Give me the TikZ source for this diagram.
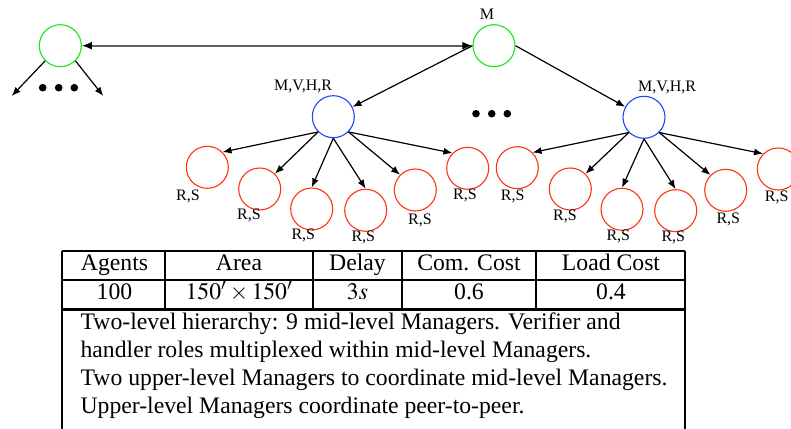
\documentclass[tikz,border=0pt]{standalone}
\usepackage{amsmath}
\usepackage{mathptmx}
\usepackage{fontspec}
\setmainfont{Liberation Serif}
\usetikzlibrary{arrows.meta}
\definecolor{nicegreen}{RGB}{20, 230, 20}
\definecolor{niceblue}{RGB}{30, 70, 255}
\definecolor{nicered}{RGB}{255, 50, 20}
\definecolor{linegray}{RGB}{95, 95, 95}

\begin{document}
\begin{tikzpicture}[x = 1pt, y = -1pt, line width = 1.2pt,
	mgr/.style = {circle, draw, minimum size = 42pt, inner sep = 0pt, line width = 1.1pt},
	lbl/.style = {font = \fontsize{16}{19}\selectfont, inner sep = 0pt},
	txt/.style = {font = \fontsize{23.7}{28}\selectfont, inner sep = 0pt},
	tabline/.style = {line width = 1.4pt},
	>={Latex[length = 9pt, width = 7pt]}]
			\useasboundingbox (0,0) rectangle (791,428);
			% upper level
			\node (u1) at (60.3,45.7) [mgr, draw = nicegreen] {};
			\node (u2) at (494,45.7) [mgr, draw = nicegreen] {};
			\node (u2l) at (487,14) [lbl] {M};
			\coordinate (e1) at (11.7,96);
			\coordinate (e2) at (103.3,96);
			% mid level
			\node (m1) at (333.3,116.7) [mgr, draw = niceblue] {};
			\node (m2) at (644,117.3) [mgr, draw = niceblue] {};
			\node (m1l) at (303,86) [lbl] {M,V,H,R};
			\node (m2l) at (667,87.3) [lbl] {M,V,H,R};
			% low level
			\node (a1) at (207.3,167.3) [mgr, draw = nicered] {};
			\node (a2) at (259.7,189) [mgr, draw = nicered] {};
			\node (a3) at (311.7,209) [mgr, draw = nicered] {};
			\node (a4) at (365.7,210.3) [mgr, draw = nicered] {};
			\node (a5) at (415.3,190) [mgr, draw = nicered] {};
			\node (a6) at (467.7,168.3) [mgr, draw = nicered] {};
			\node (b1) at (517.3,167.7) [mgr, draw = nicered] {};
			\node (b2) at (570.3,189) [mgr, draw = nicered] {};
			\node (b3) at (622,209.3) [mgr, draw = nicered] {};
			\node (b4) at (675.7,210.7) [mgr, draw = nicered] {};
			\node (b5) at (725.7,190.3) [mgr, draw = nicered] {};
			\node (b6) at (778.3,169) [mgr, draw = nicered] {};
			\node (a1l) at (188,196) [lbl] {R,S};
			\node (a2l) at (249,215) [lbl] {R,S};
			\node (a3l) at (303.3,235) [lbl] {R,S};
			\node (a4l) at (363.3,237.3) [lbl] {R,S};
			\node (a5l) at (420,220) [lbl] {R,S};
			\node (a6l) at (465,195.3) [lbl] {R,S};
			\node (b1l) at (512.7,196.7) [lbl] {R,S};
			\node (b2l) at (565,216) [lbl] {R,S};
			\node (b3l) at (618.3,236) [lbl] {R,S};
			\node (b4l) at (673.3,237.3) [lbl] {R,S};
			\node (b5l) at (728.3,219.3) [lbl] {R,S};
			\node (b6l) at (776.7,197.7) [lbl] {R,S};
			% connectors
			\draw (u1) edge[<->, linegray, line width = 1.8pt, >={Latex[length = 10pt, width = 8pt, color = black]}] (u2);
			\draw (u1.south west) edge[->] (e1);
			\draw (u1.south east) edge[->] (e2);
			\draw (u2.west) edge[->] (m1);
			\draw (u2.east) edge[->] (m2);
			\draw (m1.south west) edge[->] (a1.north east);
			\draw (m1.south west) edge[->] (a2.north east);
			\draw (m1.south) edge[->] (a3.north);
			\draw (m1.south) edge[->] (a4.north);
			\draw (m1.south east) edge[->] (a5.north west);
			\draw (m1.south east) edge[->] (a6.north west);
			\draw (m2.south west) edge[->] (b1.north east);
			\draw (m2.south west) edge[->] (b2.north east);
			\draw (m2.south) edge[->] (b3.north);
			\draw (m2.south) edge[->] (b4.north);
			\draw (m2.south east) edge[->] (b5.north west);
			\draw (m2.south east) edge[->] (b6.north west);
			% ellipses
			\foreach \x in {42.7, 58.7, 74.3} \fill (\x,87.7) circle (3.8pt);
			\foreach \x in {476, 491.7, 507.3} \fill (\x,113.7) circle (3.8pt);
			% table
			\draw[tabline] (62,251) -- (685,251);
			\draw[tabline] (62,280) -- (685,280);
			\draw[tabline, line width = 2.2pt] (62,309.5) -- (685,309.5);
			\draw[tabline] (62,251) -- (62,430);
			\draw[tabline] (685,251) -- (685,430);
			\draw[tabline] (165,251) -- (165,309);
			\draw[tabline] (313,251) -- (313,309);
			\draw[tabline] (402,251) -- (402,309);
			\draw[tabline, line width = 2.2pt] (536,251) -- (536,309);
			\node (h1) at (114.5,270.5) [txt, anchor = base] {Agents};
			\node (h2) at (239,270.5) [txt, anchor = base] {Area};
			\node (h3) at (357.5,270.5) [txt, anchor = base] {Delay};
			\node (h4) at (469,270.5) [txt, anchor = base] {Com. Cost};
			\node (h5) at (611,270.5) [txt, anchor = base] {Load Cost};
			\node (v1) at (114.5,299.5) [txt, anchor = base] {100};
			\node (v2) at (239,299.5) [txt, anchor = base] {$150'\times 150'$};
			\node (v3) at (357.5,299.5) [txt, anchor = base] {$3s$};
			\node (v4) at (469,299.5) [txt, anchor = base] {0.6};
			\node (v5) at (611,299.5) [txt, anchor = base] {0.4};
			\node (t1) at (80,329) [txt, anchor = base west] {Two-level hierarchy: 9 mid-level Managers.  Verifier and};
			\node (t2) at (80,357) [txt, anchor = base west] {handler roles multiplexed within mid-level Managers.};
			\node (t3) at (80,385) [txt, anchor = base west] {Two upper-level Managers to coordinate mid-level Managers.};
			\node (t4) at (80,413) [txt, anchor = base west] {Upper-level Managers coordinate peer-to-peer.};
\end{tikzpicture}
\end{document}
